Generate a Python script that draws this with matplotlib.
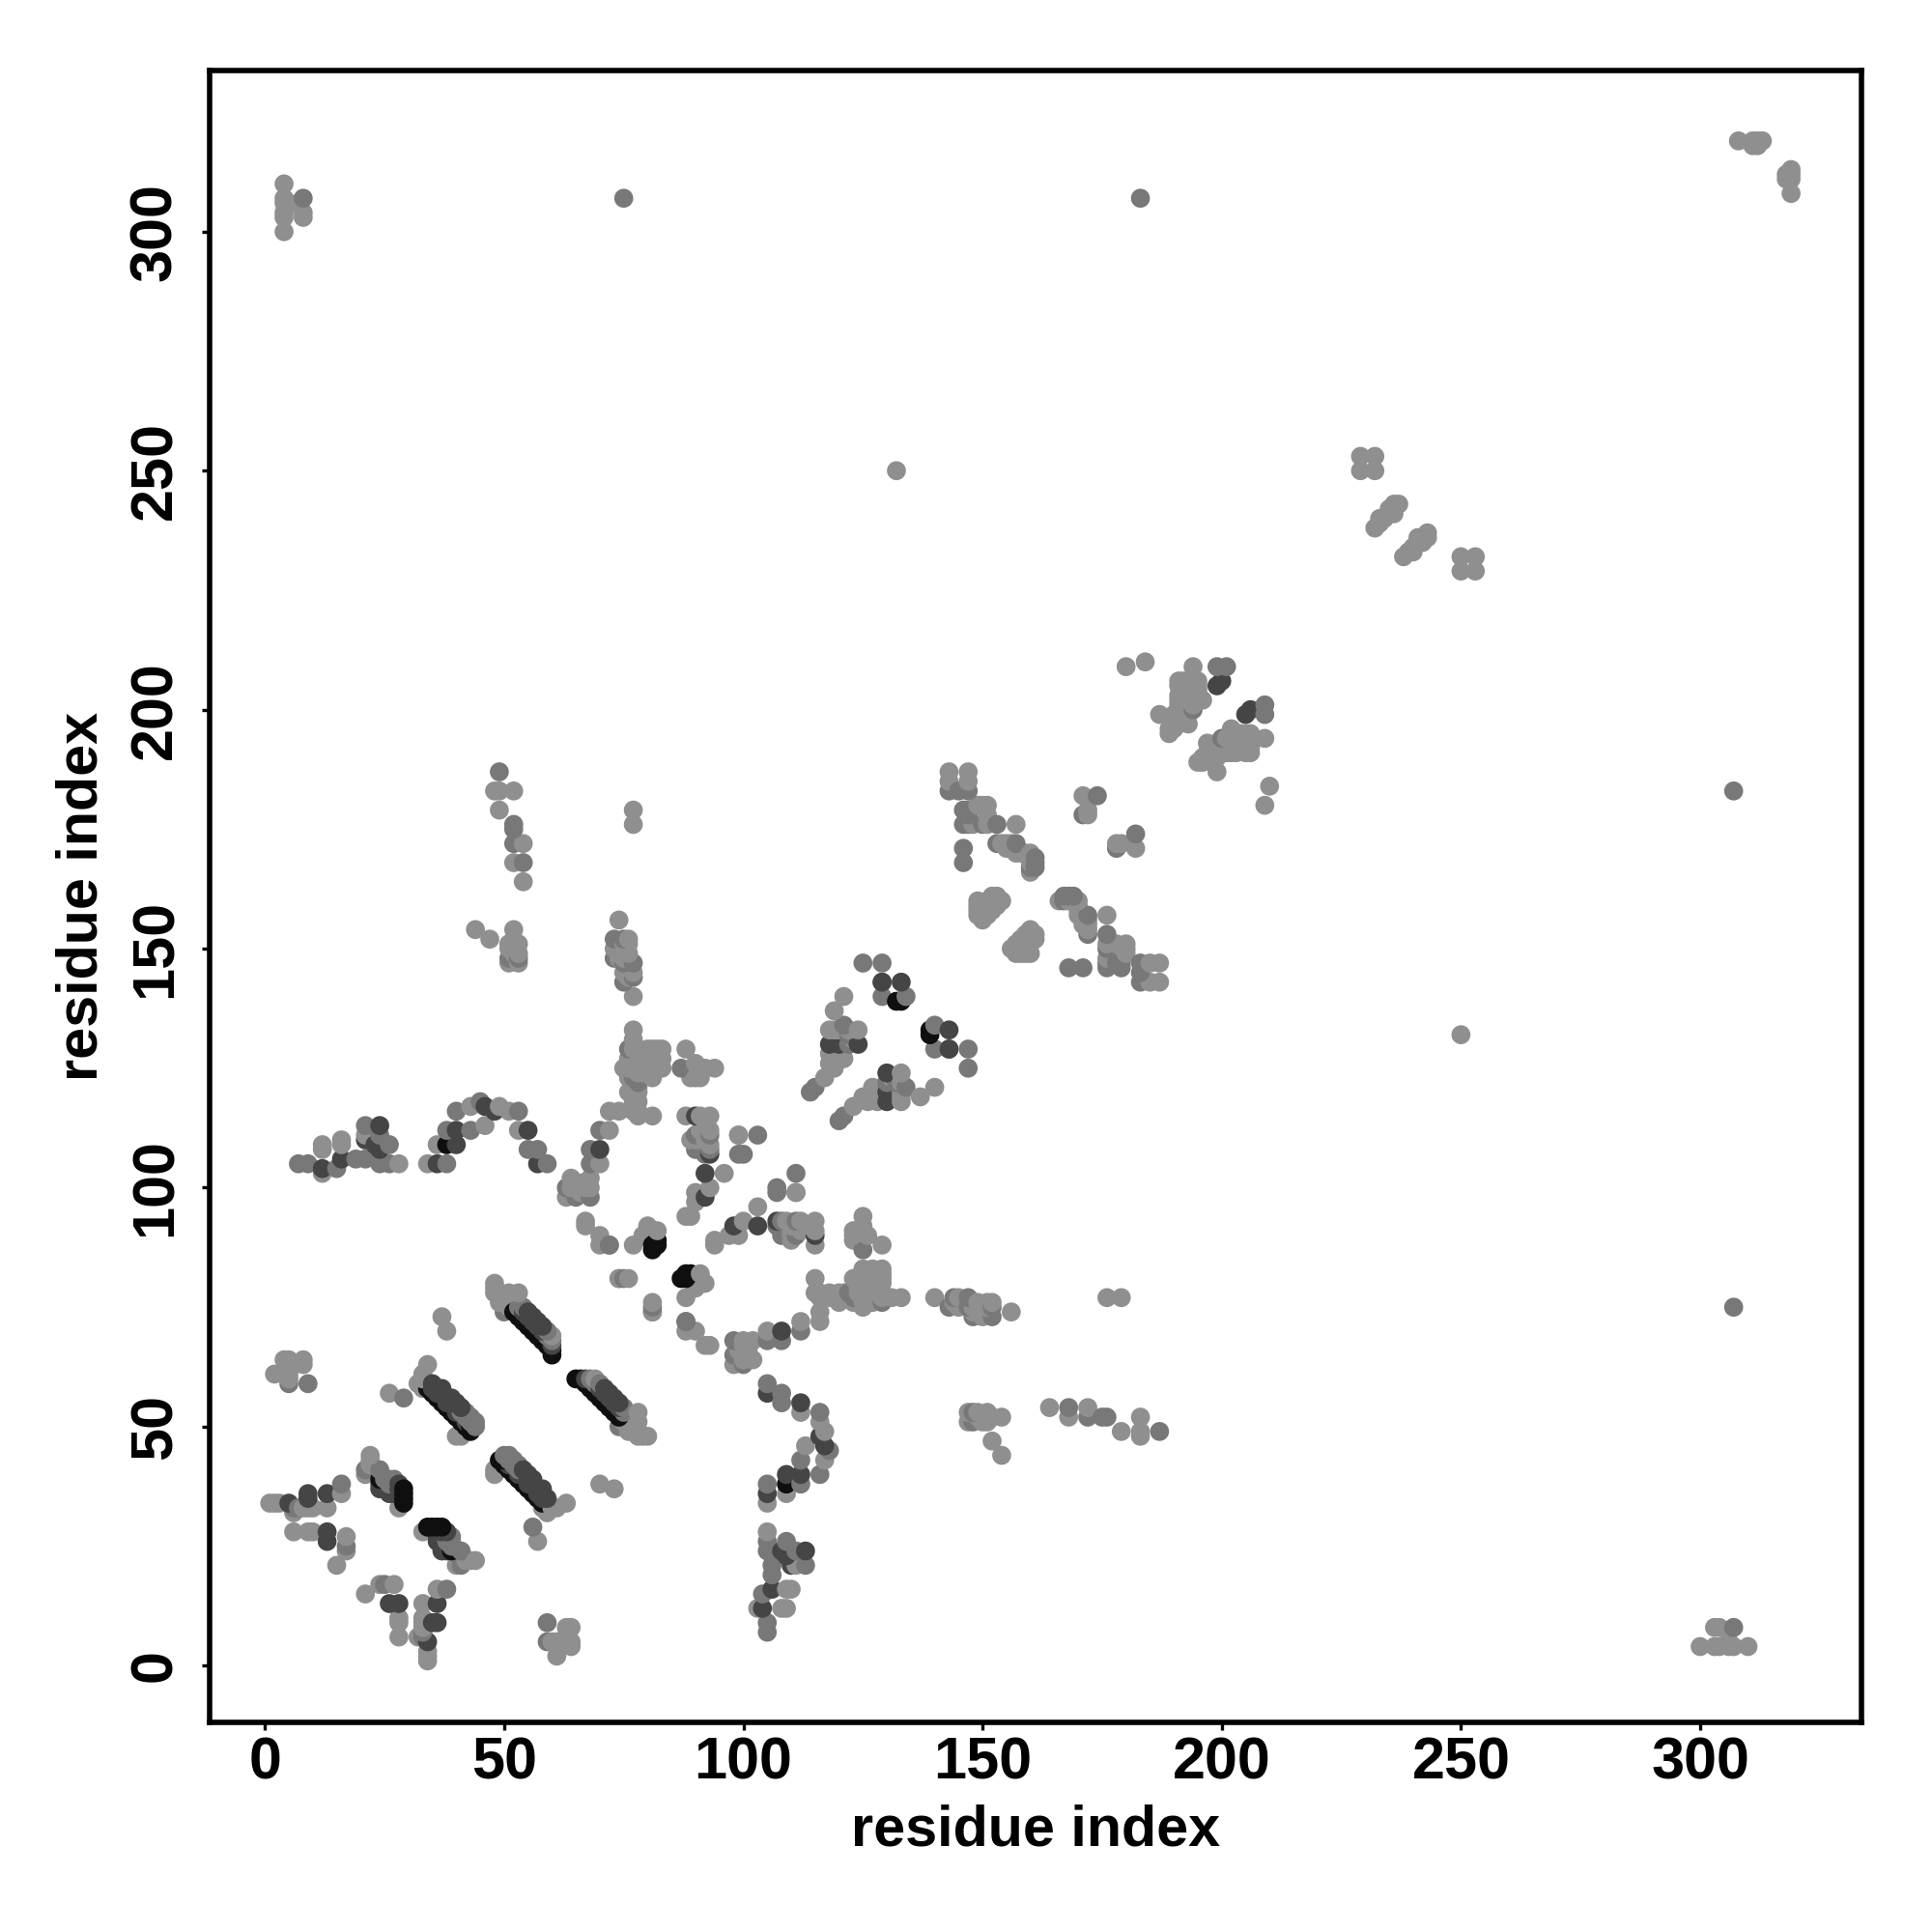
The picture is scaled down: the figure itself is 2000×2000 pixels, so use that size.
import numpy as np
import matplotlib
matplotlib.use("Agg")
import matplotlib.pyplot as plt

plt.rcParams['font.family'] = ['Liberation Sans', 'DejaVu Sans']

# Contacts as (i, j) with i < j; the map is symmetric.
# Grouped by how dark the dot is.
light = [
    (2, 61), (4, 64), (5, 64), (6, 63), (8, 64), (8, 63), (5, 61), (5, 60),
    (34, 63), (33, 61), (33, 60), (32, 59), (33, 58), (26, 57), (40, 48), (41, 48),
    (48, 80), (48, 79), (48, 78), (49, 77), (49, 76), (51, 78), (53, 78), (51, 75), (50, 76),
    (60, 69), (37, 73), (38, 70), (74, 81), (76, 81), (81, 74),
    (1, 34), (2, 34), (3, 34), (6, 32), (10, 33), (13, 33), (9, 33), (8, 33), (16, 36),
    (15, 21), (17, 24), (17, 27), (6, 28), (9, 28), (10, 28),
    (22, 44), (22, 43), (21, 40), (28, 33), (42, 22),
    (12, 109), (12, 108), (12, 103), (16, 110), (16, 109), (28, 105), (21, 111),
    (34, 105), (36, 109), (46, 113), (43, 117), (49, 117), (51, 116), (53, 112),
    (64, 102), (63, 98), (65, 101), (68, 102), (68, 100), (70, 105), (72, 112),
    (64, 100), (65, 100), (66, 100), (66, 101), (66, 99), (67, 101), (67, 99), (64, 99), (67, 100),
    (72, 116), (74, 116), (67, 93), (67, 92), (70, 90), (70, 88),
    (77, 133), (77, 131), (75, 125), (76, 120), (78, 120), (78, 116), (78, 115), (81, 115),
    (78, 129), (81, 129), (83, 129), (83, 125), (81, 125), (79, 125), (77, 125), (81, 123),
    (76, 127), (77, 127), (78, 127), (80, 127), (82, 127), (76, 125), (78, 124),
    (79, 124), (80, 124), (82, 125), (83, 127), (80, 129), (82, 129), (77, 122),
    (77, 120), (78, 118), (77, 118), (77, 116), (77, 129), (76, 123), (78, 121), (80, 125),
    (88, 129), (90, 126), (90, 123), (92, 125), (94, 125), (91, 125), (89, 123),
    (88, 115), (93, 115), (93, 112), (93, 109), (99, 111),
    (93, 100), (90, 99), (90, 97), (88, 94), (89, 94), (96, 103),
    (111, 99), (91, 123), (80, 92), (82, 91), (77, 88), (79, 90),
    (91, 110), (92, 110), (91, 112), (92, 114), (91, 115), (89, 110), (90, 110),
    (49, 183), (48, 183), (52, 183), (49, 179), (54, 172), (52, 168), (54, 164),
    (77, 179), (77, 176), (44, 154), (47, 152), (52, 154), (53, 151), (51, 151), (51, 147), (53, 147),
    (51, 150), (52, 149), (53, 149), (52, 152),
    (74, 156), (76, 152), (76, 151), (77, 140),
    (74, 151), (75, 151), (75, 150), (74, 149), (76, 149), (75, 148), (73, 150), (74, 148),
    (76, 145), (76, 144), (75, 145), (77, 145),
    (121, 140), (119, 137), (118, 133), (124, 133), (120, 127), (118, 126), (117, 123), (119, 125),
    (119, 133), (120, 133), (122, 133), (120, 128), (121, 129), (123, 131), (118, 128), (119, 128), (121, 127),
    (143, 187), (147, 187), (143, 185), (151, 180), (157, 176), (157, 170), (160, 170), (160, 166),
    (147, 185), (149, 180), (150, 180), (151, 178), (148, 176), (151, 176),
    (155, 172), (156, 172), (154, 172), (155, 171), (158, 170), (159, 170), (160, 168),
    (149, 160), (153, 161), (154, 160), (149, 157), (150, 156), (152, 158),
    (149, 158), (150, 159), (151, 160), (152, 161), (151, 157), (149, 159),
    (153, 159), (150, 158), (152, 160),
    (171, 182), (172, 179), (172, 178),
    (180, 209), (184, 210), (194, 209), (191, 206), (195, 206), (191, 203), (196, 202),
    (191, 200), (187, 199), (191, 197), (189, 195), (190, 196), (194, 201), (192, 199),
    (189, 196), (190, 197), (191, 198), (192, 200), (192, 202), (193, 203), (193, 205), (194, 204),
    (192, 204), (191, 205), (192, 206), (193, 199), (194, 202), (195, 204),
    (195, 203), (193, 197), (194, 205), (195, 205), (193, 201), (191, 201),
    (191, 202), (190, 199), (190, 198),
    (229, 250), (229, 253), (232, 250), (232, 253), (232, 238), (233, 239), (233, 240),
    (235, 242), (236, 243), (237, 243), (236, 241), (234, 240), (235, 241),
    (4, 300), (4, 303), (4, 304), (4, 306), (4, 307), (4, 310), (5, 306), (8, 303), (8, 304),
    (308, 319), (311, 319), (312, 319), (313, 319), (312, 318), (311, 318),
    (132, 250),
]
mid = [
    (5, 59), (9, 59), (29, 56), (41, 53), (43, 51), (54, 75), (50, 74), (60, 68),
    (42, 52), (42, 53), (53, 75), (59, 70), (59, 69), (44, 50), (44, 51), (43, 52),
    (6, 33), (7, 33), (16, 38), (17, 25),
    (21, 41), (24, 41), (27, 39), (26, 38), (25, 39), (26, 39), (27, 38),
    (7, 105), (9, 105), (15, 104), (19, 106), (21, 113), (24, 111), (21, 106),
    (24, 105), (26, 105), (26, 109),
    (38, 105), (38, 112), (43, 112), (40, 116), (45, 118), (53, 116),
    (55, 108), (57, 108), (59, 105),
    (63, 100), (65, 98), (68, 98), (68, 105), (68, 108), (70, 112), (72, 88),
    (76, 129), (77, 123), (78, 122),
    (81, 75), (87, 125), (90, 111), (93, 111), (90, 108), (93, 108),
    (88, 72), (99, 107), (100, 107), (103, 111), (91, 108), (92, 107),
    (49, 187), (52, 176), (52, 175), (52, 172), (54, 168),
    (51, 148), (53, 148), (73, 152), (73, 148), (75, 152), (75, 147), (77, 147), (75, 143), (77, 144),
    (121, 134), (122, 132), (115, 121), (114, 120), (122, 130),
    (129, 143), (129, 140), (134, 140), (125, 147), (129, 147),
    (143, 183), (147, 183), (146, 179), (146, 176), (150, 176), (153, 176), (153, 172),
    (157, 172), (161, 169), (161, 167), (146, 171), (146, 168), (171, 178), (174, 182),
    (145, 183), (147, 179), (147, 178), (147, 176), (161, 168), (160, 167),
    (199, 209), (201, 209), (194, 200),
    (183, 307), (75, 307), (8, 307),
]
dark = [
    (13, 36), (9, 36), (9, 35), (5, 34), (13, 26), (13, 28),
    (36, 58), (37, 57), (38, 56), (40, 55), (56, 73), (58, 71), (60, 67),
    (35, 59), (35, 58), (37, 58), (39, 56), (39, 55), (41, 54), (55, 74), (55, 73), (57, 72), (57, 71),
    (36, 57), (38, 55), (40, 53), (42, 51), (54, 74), (56, 72), (58, 70),
    (24, 38), (25, 37), (26, 36), (27, 36), (25, 38), (24, 37), (28, 37), (28, 38),
    (12, 104), (16, 106), (21, 110), (23, 109), (24, 113), (24, 108),
    (36, 105), (40, 109), (40, 112), (46, 117), (48, 116), (55, 112), (57, 105),
    (70, 108), (90, 115), (92, 103), (93, 107), (92, 98),
    (118, 130), (120, 130), (124, 130), (133, 143), (129, 143),
    (200, 206), (199, 205),
]
black = [
    (34, 58), (35, 57), (36, 56), (37, 55), (38, 54), (39, 53), (40, 52), (41, 51), (42, 50), (43, 49), (43, 50),
    (52, 74), (53, 73), (54, 72), (55, 71), (56, 70), (57, 69), (58, 68), (59, 67), (60, 66), (60, 65),
    (24, 39), (29, 37), (29, 36), (29, 35), (29, 34),
    (38, 109), (81, 88), (82, 88), (81, 87), (82, 89), (132, 139), (133, 139),
]
shades = [0.56, 0.47, 0.27, 0.06]

tick_vals = [0, 50, 100, 150, 200, 250, 300]

xs, ys, greys = [], [], []
for group, grey in zip([light, mid, dark, black], shades):
    for a, b in group:
        xs += [a, b]
        ys += [b, a]
        greys += [grey, grey]
xs = np.array(xs)
ys = np.array(ys)
greys = np.array(greys)

# dots further up and to the right sit on top
order = np.argsort(xs + ys, kind='stable')

fig = plt.figure(figsize=(10, 10), dpi=200)
ax = fig.add_axes([0.1084, 0.1084, 0.8553, 0.8553])
ax.scatter(xs[order], ys[order], s=50, c=[str(g) for g in greys[order]], linewidths=0)
ax.set_xlim(-11.6, 333.8)
ax.set_ylim(-11.9, 333.8)
ax.set_xticks(tick_vals)
ax.set_yticks(tick_vals)
ax.tick_params(length=2.8, width=1.2, labelsize=22)
ax.tick_params(axis='x', pad=2.2)
ax.tick_params(axis='y', pad=6.8)
for lab in ax.get_xticklabels() + ax.get_yticklabels():
    lab.set_fontweight('bold')
for lab in ax.get_yticklabels():
    lab.set_rotation(90)
    lab.set_va('center')
for sp in ax.spines.values():
    sp.set_linewidth(2.0)
ax.set_xlabel('residue index', fontsize=21.4, fontweight='bold', labelpad=5)
ax.set_ylabel('residue index', fontsize=21.4, fontweight='bold', labelpad=7.5)

fig.savefig('out.png', dpi=200)
